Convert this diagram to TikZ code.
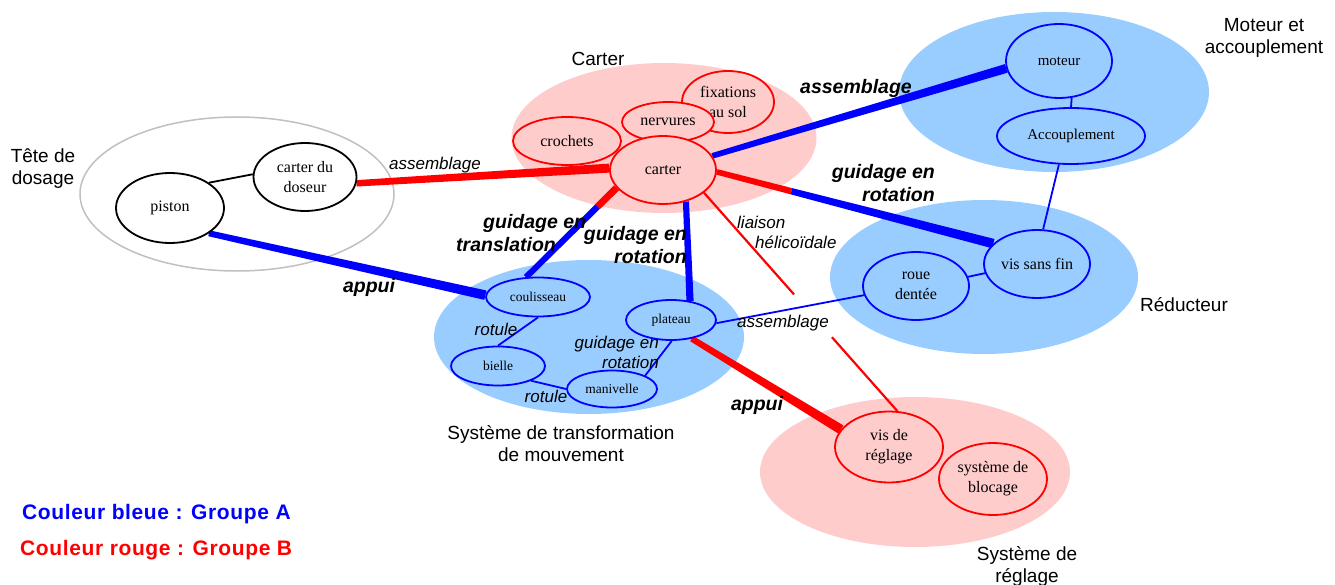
\documentclass[tikz,border=0pt]{standalone}
\usepackage{fontspec}
\setmainfont{Liberation Serif}
\newfontfamily\arial{Liberation Sans}
\usetikzlibrary{shapes.geometric,calc}
\definecolor{pinkbg}{HTML}{FFCCCC}
\definecolor{bluebg}{HTML}{99CCFF}
\definecolor{grpA}{HTML}{0000FF}
\definecolor{grpB}{HTML}{FF0000}
\definecolor{grayline}{HTML}{C0C0C0}
\pgfdeclarelayer{bg}
\pgfdeclarelayer{conn}
\pgfsetlayers{bg,conn,main}
\newcommand\tapered[5]{\fill[#1] ($(#2)!#4!90:(#3)$) -- ($(#2)!#4!-90:(#3)$) -- ($(#3)!#5!90:(#2)$) -- ($(#3)!#5!-90:(#2)$) -- cycle;}
\begin{document}
\begin{tikzpicture}[x=1pt,y=-1pt,
 grp/.style={ellipse, inner sep=0pt},
 esz/.style 2 args={minimum width=#1, minimum height=#2},
 part/.style={ellipse, draw, line width=1.8pt, inner sep=0pt, align=center, font=\fontsize{16}{20}\selectfont},
 partK/.style={part, draw=black, fill=white},
 partB/.style={part, draw=grpB, fill=pinkbg},
 partA/.style={part, draw=grpA, fill=bluebg},
 small/.style={font=\fontsize{13.5}{16}\selectfont},
 mid/.style={font=\fontsize{15}{18}\selectfont},
 grpname/.style={font=\arial\fontsize{19}{22}\selectfont, align=center, inner sep=0pt},
 lblbold/.style={font=\arial\bfseries\itshape\fontsize{19.5}{23}\selectfont, inner sep=0pt},
 lblit/.style={font=\arial\itshape\fontsize{17}{20}\selectfont, inner sep=0pt},
 legend/.style={font=\arial\bfseries\fontsize{21}{24}\selectfont\addfontfeature{LetterSpace=3}, anchor=west, inner sep=0pt},
 thinA/.style={draw=grpA, line width=1.8pt},
 thinB/.style={draw=grpB, line width=2.2pt},
 thinK/.style={draw=black, line width=1.8pt},
]
\useasboundingbox (0,0) rectangle (1335,585);

% group backgrounds
\begin{pgfonlayer}{bg}
\node[grp, draw=grayline, line width=1.5pt, esz={314}{154}] (gTete) at (237,194) {};
\node[grp, fill=pinkbg, esz={305}{150}] (gCarter) at (664,138) {};
\node[grp, fill=bluebg, esz={310}{160}] (gMoteur) at (1054,92) {};
\node[grp, fill=bluebg, esz={308}{154}] (gReduc) at (984,277) {};
\node[grp, fill=bluebg, esz={310}{154}] (gTrans) at (589,337) {};
\node[grp, fill=pinkbg, esz={310}{150}] (gReglage) at (915,472) {};
\end{pgfonlayer}

% parts
\node[partK, esz={108}{70}] (piston) at (170,208) {piston};
\node[partK, esz={103}{68}] (doseur) at (305,177) {carter du\\doseur};
\node[partB, esz={92}{62}] (fix) at (728,102) {fixations\\au sol};
\node[partB, esz={92}{40}] (nerv) at (668,122) {nervures};
\node[partB, esz={108}{48}] (croch) at (567,141) {crochets};
\node[partB, esz={106}{68}] (carter) at (663,170) {carter};
\node[partA, mid, esz={106}{74}] (moteur) at (1059,61) {moteur};
\node[partA, mid, esz={148}{56}] (accoup) at (1071,136) {Accouplement};
\node[partA, esz={106}{68}] (vis) at (1037,264) {vis sans fin};
\node[partA, esz={106}{68}] (roue) at (916,286) {roue\\dentée};
\node[partA, small, esz={104}{39}] (coul) at (538,297) {coulisseau};
\node[partA, small, esz={90}{40}] (plateau) at (671,320) {plateau};
\node[partA, small, esz={94}{39}] (bielle) at (498,366) {bielle};
\node[partA, small, esz={90}{37}] (maniv) at (612,389) {manivelle};
\node[partB, esz={108}{71}] (visreg) at (889,447) {vis de\\réglage};
\node[partB, esz={108}{72}] (bloc) at (993,479) {système de\\blocage};

% group names
\node[grpname] (lTete) at (43,169) {Tête de\\dosage};
\node[grpname] (lCarter) at (598,59) {Carter};
\node[grpname] (lMoteur) at (1264,38) {Moteur et\\accouplement};
\node[grpname] (lReduc) at (1184,305) {Réducteur};
\node[grpname] (lTrans) at (561,444) {Système de transformation\\de mouvement};
\node[grpname] (lReglage) at (1027,566) {Système de\\réglage};

% connectors
\begin{pgfonlayer}{conn}
\draw[thinK] (piston.33) -- (doseur.177);
\tapered{grpB}{doseur.-7}{carter.178}{3.2pt}{4.5pt}
\tapered{grpA}{piston.-33}{coul.178}{3pt}{4.8pt}
\tapered{grpA}{carter.16}{moteur.188}{2.8pt}{4.5pt}
\coordinate (m1) at ($(carter.-2)!0.27!(vis.155)$);
\tapered{grpB}{carter.-2}{m1}{2.8pt}{3.2pt}
\tapered{grpA}{m1}{vis.155}{3.2pt}{4.8pt}
\coordinate (m2) at ($(carter.201)!0.21!(coul.121)$);
\tapered{grpB}{carter.201}{m2}{3.5pt}{3.4pt}
\tapered{grpA}{m2}{coul.121}{3.2pt}{3pt}
\tapered{grpA}{carter.-54}{plateau.45}{3pt}{3.6pt}
\tapered{grpB}{plateau.-42}{visreg.160}{3pt}{4.8pt}
\coordinate (g1) at ($(carter.-29)!0.466!(visreg.77)$);
\coordinate (g2) at ($(carter.-29)!0.662!(visreg.77)$);
\draw[thinB] (carter.-29) -- (g1);
\draw[thinB] (g2) -- (visreg.77);
\draw[thinA] (moteur.-71) -- (accoup.90);
\draw[thinA] (accoup.-113) -- (vis.80);
\draw[thinA] (roue.10) -- (vis.190);
\draw[thinA] (plateau.-4) -- (roue.190);
\draw[thinA] (coul.-90) -- (bielle.90);
\draw[thinA] (bielle.-24) -- (maniv.180);
\draw[thinA] (maniv.22) -- (plateau.-88);
\end{pgfonlayer}

% connector labels
\node[lblit] (l1) at (435,165) {assemblage};
\node[lblbold] (l2) at (856,88) {assemblage};
\node[lblbold, align=right, anchor=east] (l3) at (935,183) {guidage en\\rotation};
\node[lblbold, align=left, anchor=west] (l4) at (456,233.5) {\hspace*{27pt}guidage en\\translation};
\node[lblbold, align=right, anchor=east] (l5) at (687,245) {guidage en\\rotation};
\node[lblit, align=left, anchor=west] (l6) at (737,232) {liaison\\\hspace*{18pt}hélicoïdale};
\node[lblit] (l7) at (783,323) {assemblage};
\node[lblit] (l8) at (496,329) {rotule};
\node[lblit, align=right, anchor=east] (l9) at (659,352) {guidage en\\rotation};
\node[lblit] (l10) at (546,396) {rotule};
\node[lblbold] (l11) at (369,287) {appui};
\node[lblbold] (l12) at (757,405) {appui};

% legend
\node[legend, text=grpA] (legA) at (22,514) {Couleur bleue : Groupe A};
\node[legend, text=grpB] (legB) at (20,550) {Couleur rouge : Groupe B};
\end{tikzpicture}
\end{document}
